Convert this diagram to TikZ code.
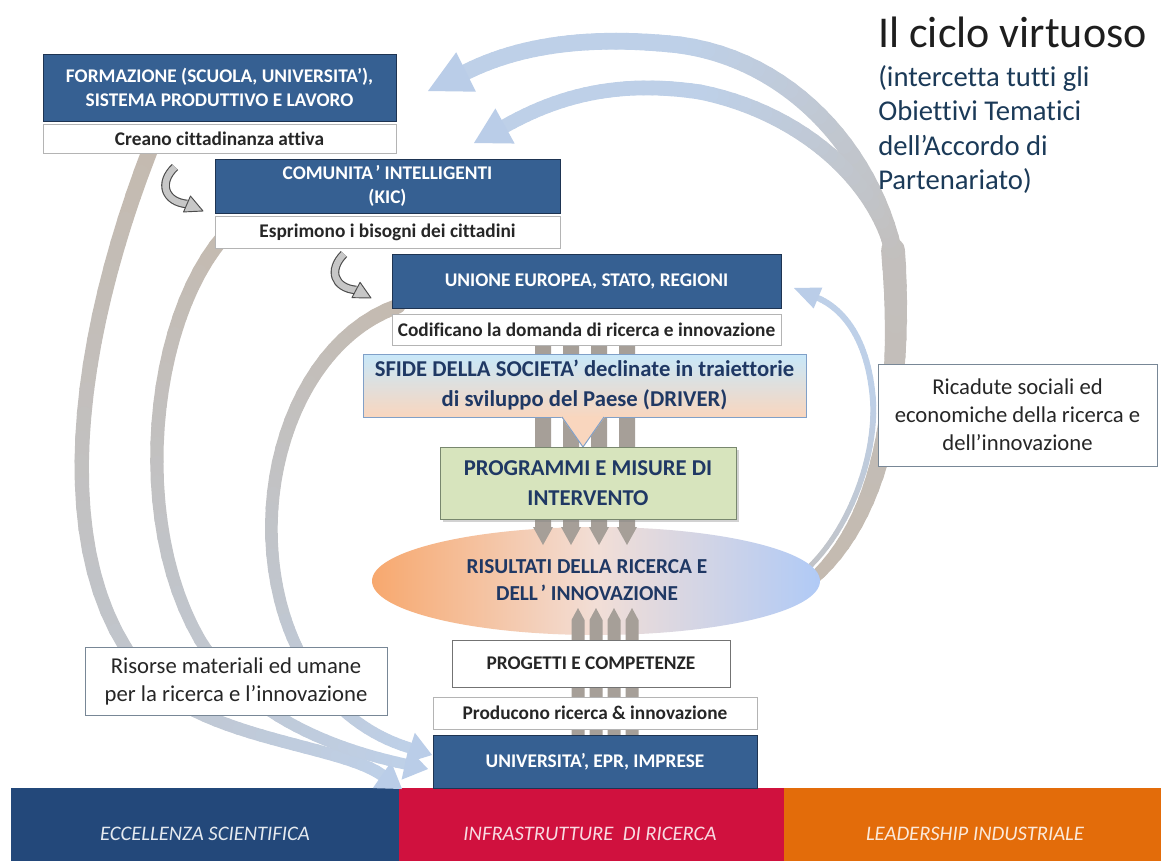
\documentclass[tikz,border=0pt]{standalone}
\usepackage{fontspec}
\setmainfont{Carlito}[Ligatures=NoCommon]
\usetikzlibrary{shapes.geometric,calc,shadows}

\definecolor{boxblue}{RGB}{54,96,146}
\definecolor{boxedge}{RGB}{30,52,82}
\definecolor{navy}{RGB}{31,56,100}
\definecolor{bandA}{RGB}{196,186,175}
\definecolor{bandB}{RGB}{190,208,232}
\definecolor{headfill}{RGB}{186,205,232}
\definecolor{barcol}{RGB}{166,159,152}
\definecolor{grayedge}{RGB}{180,180,180}
\definecolor{eblue}{RGB}{35,72,122}
\definecolor{ered}{RGB}{208,17,62}
\definecolor{eorange}{RGB}{227,108,10}
\definecolor{sftop}{RGB}{200,232,250}
\definecolor{sfbot}{RGB}{249,214,190}
\definecolor{sfedge}{RGB}{128,160,200}
\definecolor{pgreen}{RGB}{215,228,189}
\definecolor{pedge}{RGB}{120,135,110}
\definecolor{ellL}{RGB}{247,168,110}
\definecolor{ellM}{RGB}{242,222,214}
\definecolor{ellR}{RGB}{176,202,246}
\definecolor{titlecol}{RGB}{30,30,30}
\definecolor{subcol}{RGB}{27,58,88}
\definecolor{txtdark}{RGB}{38,38,38}
\definecolor{calloutedge}{RGB}{120,135,150}

\newcommand\myfs[2]{\fontsize{#1}{#2}\selectfont}

% gradient band along a cubic: p0, c1, c2, p3, width0, width1 (px), mix0, mix1
\newcommand\gseg[8]{%
  \path #1 .. controls #2 and #3 .. #4
    \foreach \gk [evaluate=\gk as \gp using \gk/24] in {0,...,24}{coordinate[pos=\gp] (gq\gk)};
  \foreach \gk in {0,...,23}{%
    \pgfmathsetmacro\gbt{(\gk+0.5)/24}%
    \pgfmathsetmacro\gbw{(#5+(#6-#5)*\gbt)*0.75}%
    \pgfmathtruncatemacro\gbm{#7+(#8-#7)*\gbt}%
    \pgfmathtruncatemacro\gbn{\gk+1}%
    \draw[line width=\gbw pt, draw=bandB!\gbm!bandA, line cap=round] (gq\gk) -- (gq\gbn);
  }}
% arrow head: base, tip, half width
\newcommand\ahead[3]{%
  \fill[headfill] ($#1!#3!90:#2$) -- #2 -- ($#1!#3!-90:#2$) -- cycle;}
% small curly gray arrow: p0,c1,c2,p3(base), tip
\newcommand\curly[5]{%
  \draw[line width=6.5pt, draw=black!70] #1 .. controls #2 and #3 .. #4;
  \draw[line width=4.8pt, draw=black!22] #1 .. controls #2 and #3 .. #4;
  \filldraw[fill=black!22, draw=black!70, line width=0.7pt, line join=round]
    ($#4!6.5pt!90:#5$) -- #5 -- ($#4!6.5pt!-90:#5$) -- cycle;}

\tikzset{
 sz/.style 2 args={minimum width={#1*0.75pt}, minimum height={#2*0.75pt}},
 allbox/.style={rectangle, inner sep=0pt, outer sep=0pt, align=center, line width=0.75pt},
 darkbox/.style={allbox, fill=boxblue, draw=boxedge, text=white, font=\bfseries\myfs{14.5}{17.5}},
 whitebox/.style={allbox, fill=white, draw=grayedge, text=txtdark, font=\bfseries\myfs{14.5}{17.5}},
 notebox/.style={allbox, fill=white, draw=calloutedge, text=txtdark, font=\myfs{17}{21}},
 bartext/.style={inner sep=0pt, font=\itshape\myfs{15.5}{18}},
 subline/.style={anchor=base west, inner sep=0pt, text=subcol, font=\myfs{21.5}{25}},
}

\begin{document}
\begin{tikzpicture}[x=0.75pt, y=-0.75pt]
\useasboundingbox (0,0) rectangle (1161,861);
\fill[white] (0,0) rectangle (1161,861);

% bottom bars
\fill[eblue] (11,788) rectangle (399,861);
\fill[ered] (399,788) rectangle (784,861);
\fill[eorange] (784,788) rectangle (1161,861);
\node[bartext, text=white!88!eblue] (ecc) at (205,834) {ECCELLENZA SCIENTIFICA};
\node[bartext, text=white!85!ered] (infra) at (590,834) {INFRASTRUTTURE\ \ DI RICERCA};
\node[bartext, text=white!85!eorange] (lead) at (975,834) {LEADERSHIP INDUSTRIALE};

% left bands (tan -> blue)
\gseg{(150,150)}{(80,330)}{(40,560)}{(150,680)}{16}{13}{0}{55}
\gseg{(150,680)}{(210,740)}{(340,745)}{(382,775)}{13}{12}{55}{100}
\ahead{(382,775)}{(402,789)}{12pt}
\gseg{(225,235)}{(150,320)}{(130,520)}{(200,640)}{15}{12}{0}{55}
\gseg{(200,640)}{(250,720)}{(340,750)}{(405,764)}{12}{11}{55}{100}
\ahead{(405,764)}{(428,769)}{12pt}
\gseg{(398,306)}{(300,340)}{(250,480)}{(280,600)}{15}{12}{0}{55}
\gseg{(280,600)}{(300,680)}{(350,730)}{(410,748)}{12}{11}{55}{100}
\ahead{(410,748)}{(432,755)}{12pt}

% right big band (tan -> blue) splitting into two arrows
\gseg{(812,580)}{(880,520)}{(905,400)}{(893,250)}{12}{24}{0}{25}
\gseg{(893,250)}{(870,150)}{(790,60)}{(680,45)}{18}{17}{25}{100}
\gseg{(680,45)}{(590,35)}{(520,45)}{(466,72)}{17}{16}{100}{100}
\ahead{(466,72)}{(428,91)}{16.5pt}
\gseg{(893,250)}{(870,170)}{(790,110)}{(700,92)}{16}{15}{25}{100}
\gseg{(700,92)}{(620,80)}{(560,95)}{(505,126)}{15}{14}{100}{100}
\ahead{(505,126)}{(474,143)}{15pt}
% thin arrow to UNIONE
\gseg{(806,570)}{(850,530)}{(880,450)}{(872,390)}{5}{6}{40}{100}
\gseg{(872,390)}{(866,340)}{(845,310)}{(818,298)}{6}{6}{100}{100}
\ahead{(818,298)}{(794,288)}{8.5pt}

% ellipse
\node[ellipse, inner sep=0pt, sz={448}{108}, left color=ellL, right color=ellR, middle color=ellM] (risultati) at (596,581) {};
\node[inner sep=0pt, align=center, text=navy, font=\bfseries\myfs{16}{20}] (risultatitxt) at (587,580)
      {RISULTATI DELLA RICERCA E\\DELL\kern0.12em’\ INNOVAZIONE};

% gray bars
\foreach \cx in {543,571,599,627}
  \fill[barcol] (\cx-8,345) -- (\cx+8,345) -- (\cx+8,527) -- (\cx+10,527) -- (\cx,545) -- (\cx-10,527) -- (\cx-8,527) -- cycle;
\foreach \cx in {578,596,614,632}
  \fill[barcol] (\cx-6.5,735) -- (\cx+6.5,735) -- (\cx+6.5,620) -- (\cx,608) -- (\cx-6.5,620) -- cycle;

% boxes
\node[darkbox, sz={353}{67}] (formazione) at (219.5,87.5) {FORMAZIONE (SCUOLA, UNIVERSITA’),\\SISTEMA PRODUTTIVO E LAVORO};
\node[whitebox, sz={353}{29}] (creano) at (219.5,138.5) {Creano cittadinanza attiva};
\node[darkbox, sz={345}{54}] (comunita) at (387.5,186) {COMUNITA\kern0.12em’\ INTELLIGENTI\\(KIC)};
\node[whitebox, sz={345}{32}] (esprimono) at (387.5,232) {Esprimono i bisogni dei cittadini};
\node[darkbox, sz={389}{54}] (unione) at (586.5,281) {UNIONE EUROPEA, STATO, REGIONI};
\node[whitebox, sz={389}{31}] (codificano) at (586.5,329.5) {Codificano la domanda di ricerca e innovazione};
\node[allbox, sz={443}{63}, top color=sftop, bottom color=sfbot, draw=sfedge, text=navy,
      font=\bfseries\myfs{17}{22.5}] (sfide) at (584.5,385.5)
      {SFIDE DELLA SOCIETA’ declinate in traiettorie\\di sviluppo del Paese (DRIVER)};
\fill[sfbot] (561,416.6) -- (583,447) -- (605,416.6) -- cycle;
\draw[sfedge, line width=0.75pt] (562,417) -- (583,447) -- (604,417);
\node[allbox, sz={296}{72}, fill=pgreen, draw=pedge, text=navy, font=\bfseries\myfs{17}{22},
      drop shadow={shadow xshift=2.5pt, shadow yshift=-2.5pt, opacity=0.35}] (programmi) at (588,483)
      {PROGRAMMI E MISURE DI\\INTERVENTO};
\node[whitebox, sz={278}{47}, draw=black!55] (progetti) at (591,663.5) {PROGETTI E COMPETENZE};
\node[whitebox, sz={324}{32}] (producono) at (595,713) {Producono ricerca \& innovazione};
\node[darkbox, sz={324}{53}] (universita) at (595,761.5) {UNIVERSITA’, EPR, IMPRESE};
\node[notebox, sz={302}{68}] (risorse) at (236,681) {Risorse materiali ed umane\\per la ricerca e l’innovazione};
\node[notebox, sz={279}{102}] (ricadute) at (1017.5,415) {Ricadute sociali ed\\economiche della ricerca e\\dell’innovazione};

% curly arrows
\curly{(175,167)}{(158,183)}{(165,202)}{(187,204)}{(203,211)}
\curly{(344,254)}{(328,270)}{(334,288)}{(356,290)}{(371,298)}

% title
\node[anchor=base west, inner sep=0pt, text=titlecol, font=\myfs{33}{40}] (title) at (878,47) {Il ciclo virtuoso};
\node[subline] (sub1) at (878,86) {(intercetta tutti gli};
\node[subline] (sub2) at (878,120.5) {Obiettivi Tematici};
\node[subline] (sub3) at (878,155) {dell’Accordo di};
\node[subline] (sub4) at (878,189.5) {Partenariato)};
\end{tikzpicture}
\end{document}
